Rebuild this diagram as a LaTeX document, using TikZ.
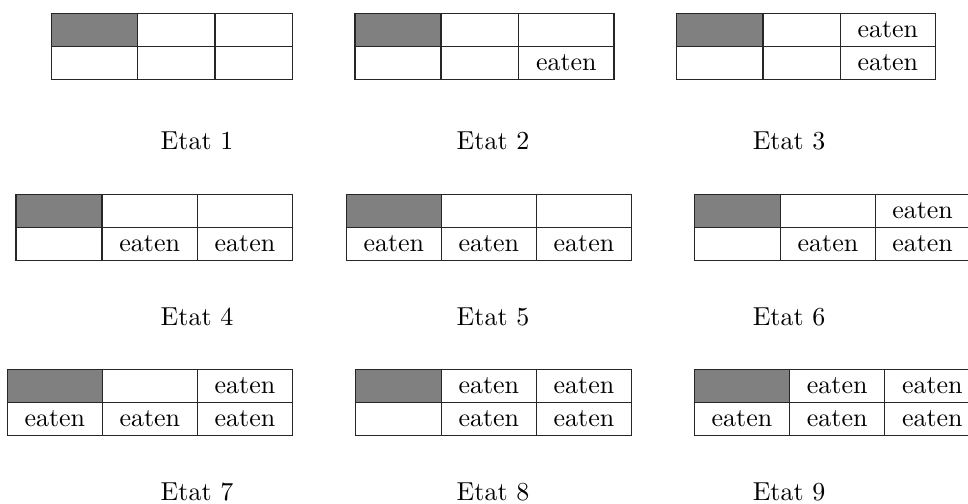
\documentclass[tikz,border=0pt]{standalone}
\tikzset{
  x=0.385pt, y=-0.385pt,
  gridline/.style={draw=black!85, line width=0.45pt},
  graycell/.style={fill=gray},
  eat/.style={anchor=base, inner sep=0pt},
  capt/.style={anchor=base, inner sep=0pt}
}
% #1 #2 #3 #4 : column x's ; #5 #6 #7 : row y's
\newcommand\statetable[7]{%
  \fill[graycell] (#1,#5) rectangle (#2,#6);
  \draw[gridline] (#1,#5) rectangle (#4,#7);
  \draw[gridline] (#1,#6) -- (#4,#6);
  \draw[gridline] (#2,#5) -- (#2,#7);
  \draw[gridline] (#3,#5) -- (#3,#7);
}
\begin{document}
\begin{tikzpicture}
\useasboundingbox (0,0) rectangle (968,503);
\clip (0,0) rectangle (968,503);

% ---------- row 1 ----------
\statetable{51.7}{137.3}{215}{292.7}{13.7}{46.3}{79.3}
\statetable{355}{441}{518.7}{614}{13.7}{46.3}{79.3}
\node[eat] (e2a) at (566.3,70) {eaten};
\statetable{676.3}{763}{840.3}{935.3}{13.7}{46.3}{79.3}
\node[eat] (e3a) at (887.8,37) {eaten};
\node[eat] (e3b) at (887.8,70) {eaten};

\node[capt] (c1) at (197,149.3) {Etat 1};
\node[capt] (c2) at (493,149.3) {Etat 2};
\node[capt] (c3) at (789,149.3) {Etat 3};

% ---------- row 2 ----------
\statetable{16}{102}{197.3}{292.7}{194.3}{227.5}{260.3}
\node[eat] (e4a) at (149.7,251) {eaten};
\node[eat] (e4b) at (245,251) {eaten};
\statetable{346.3}{441.3}{536.3}{631.7}{194.3}{227.5}{260.3}
\node[eat] (e5a) at (393.8,251) {eaten};
\node[eat] (e5b) at (488.8,251) {eaten};
\node[eat] (e5c) at (584,251) {eaten};
\statetable{694.3}{780.7}{875.3}{970}{194.3}{227.5}{260.3}
\node[eat] (e6a) at (922.6,218.2) {eaten};
\node[eat] (e6b) at (828,251) {eaten};
\node[eat] (e6c) at (922.6,251) {eaten};

\node[capt] (c4) at (197,325) {Etat 4};
\node[capt] (c5) at (493,325) {Etat 5};
\node[capt] (c6) at (789,325) {Etat 6};

% ---------- row 3 ----------
\statetable{7.3}{102.3}{197.3}{292.7}{369.3}{402.3}{435.7}
\node[eat] (e7a) at (245,393) {eaten};
\node[eat] (e7b) at (54.8,426.4) {eaten};
\node[eat] (e7c) at (149.8,426.4) {eaten};
\node[eat] (e7d) at (245,426.4) {eaten};
\statetable{355.3}{441.3}{536.3}{631.7}{369.3}{402.3}{435.7}
\node[eat] (e8a) at (488.8,393) {eaten};
\node[eat] (e8b) at (584,393) {eaten};
\node[eat] (e8c) at (488.8,426.4) {eaten};
\node[eat] (e8d) at (584,426.4) {eaten};
\statetable{694.3}{789.7}{884.7}{980}{369.3}{402.3}{435.7}
\node[eat] (e9a) at (837.2,393) {eaten};
\node[eat] (e9b) at (932.3,393) {eaten};
\node[eat] (e9c) at (742,426.4) {eaten};
\node[eat] (e9d) at (837.2,426.4) {eaten};
\node[eat] (e9e) at (932.3,426.4) {eaten};

\node[capt] (c7) at (197,500) {Etat 7};
\node[capt] (c8) at (493,500) {Etat 8};
\node[capt] (c9) at (789,500) {Etat 9};
\end{tikzpicture}
\end{document}
